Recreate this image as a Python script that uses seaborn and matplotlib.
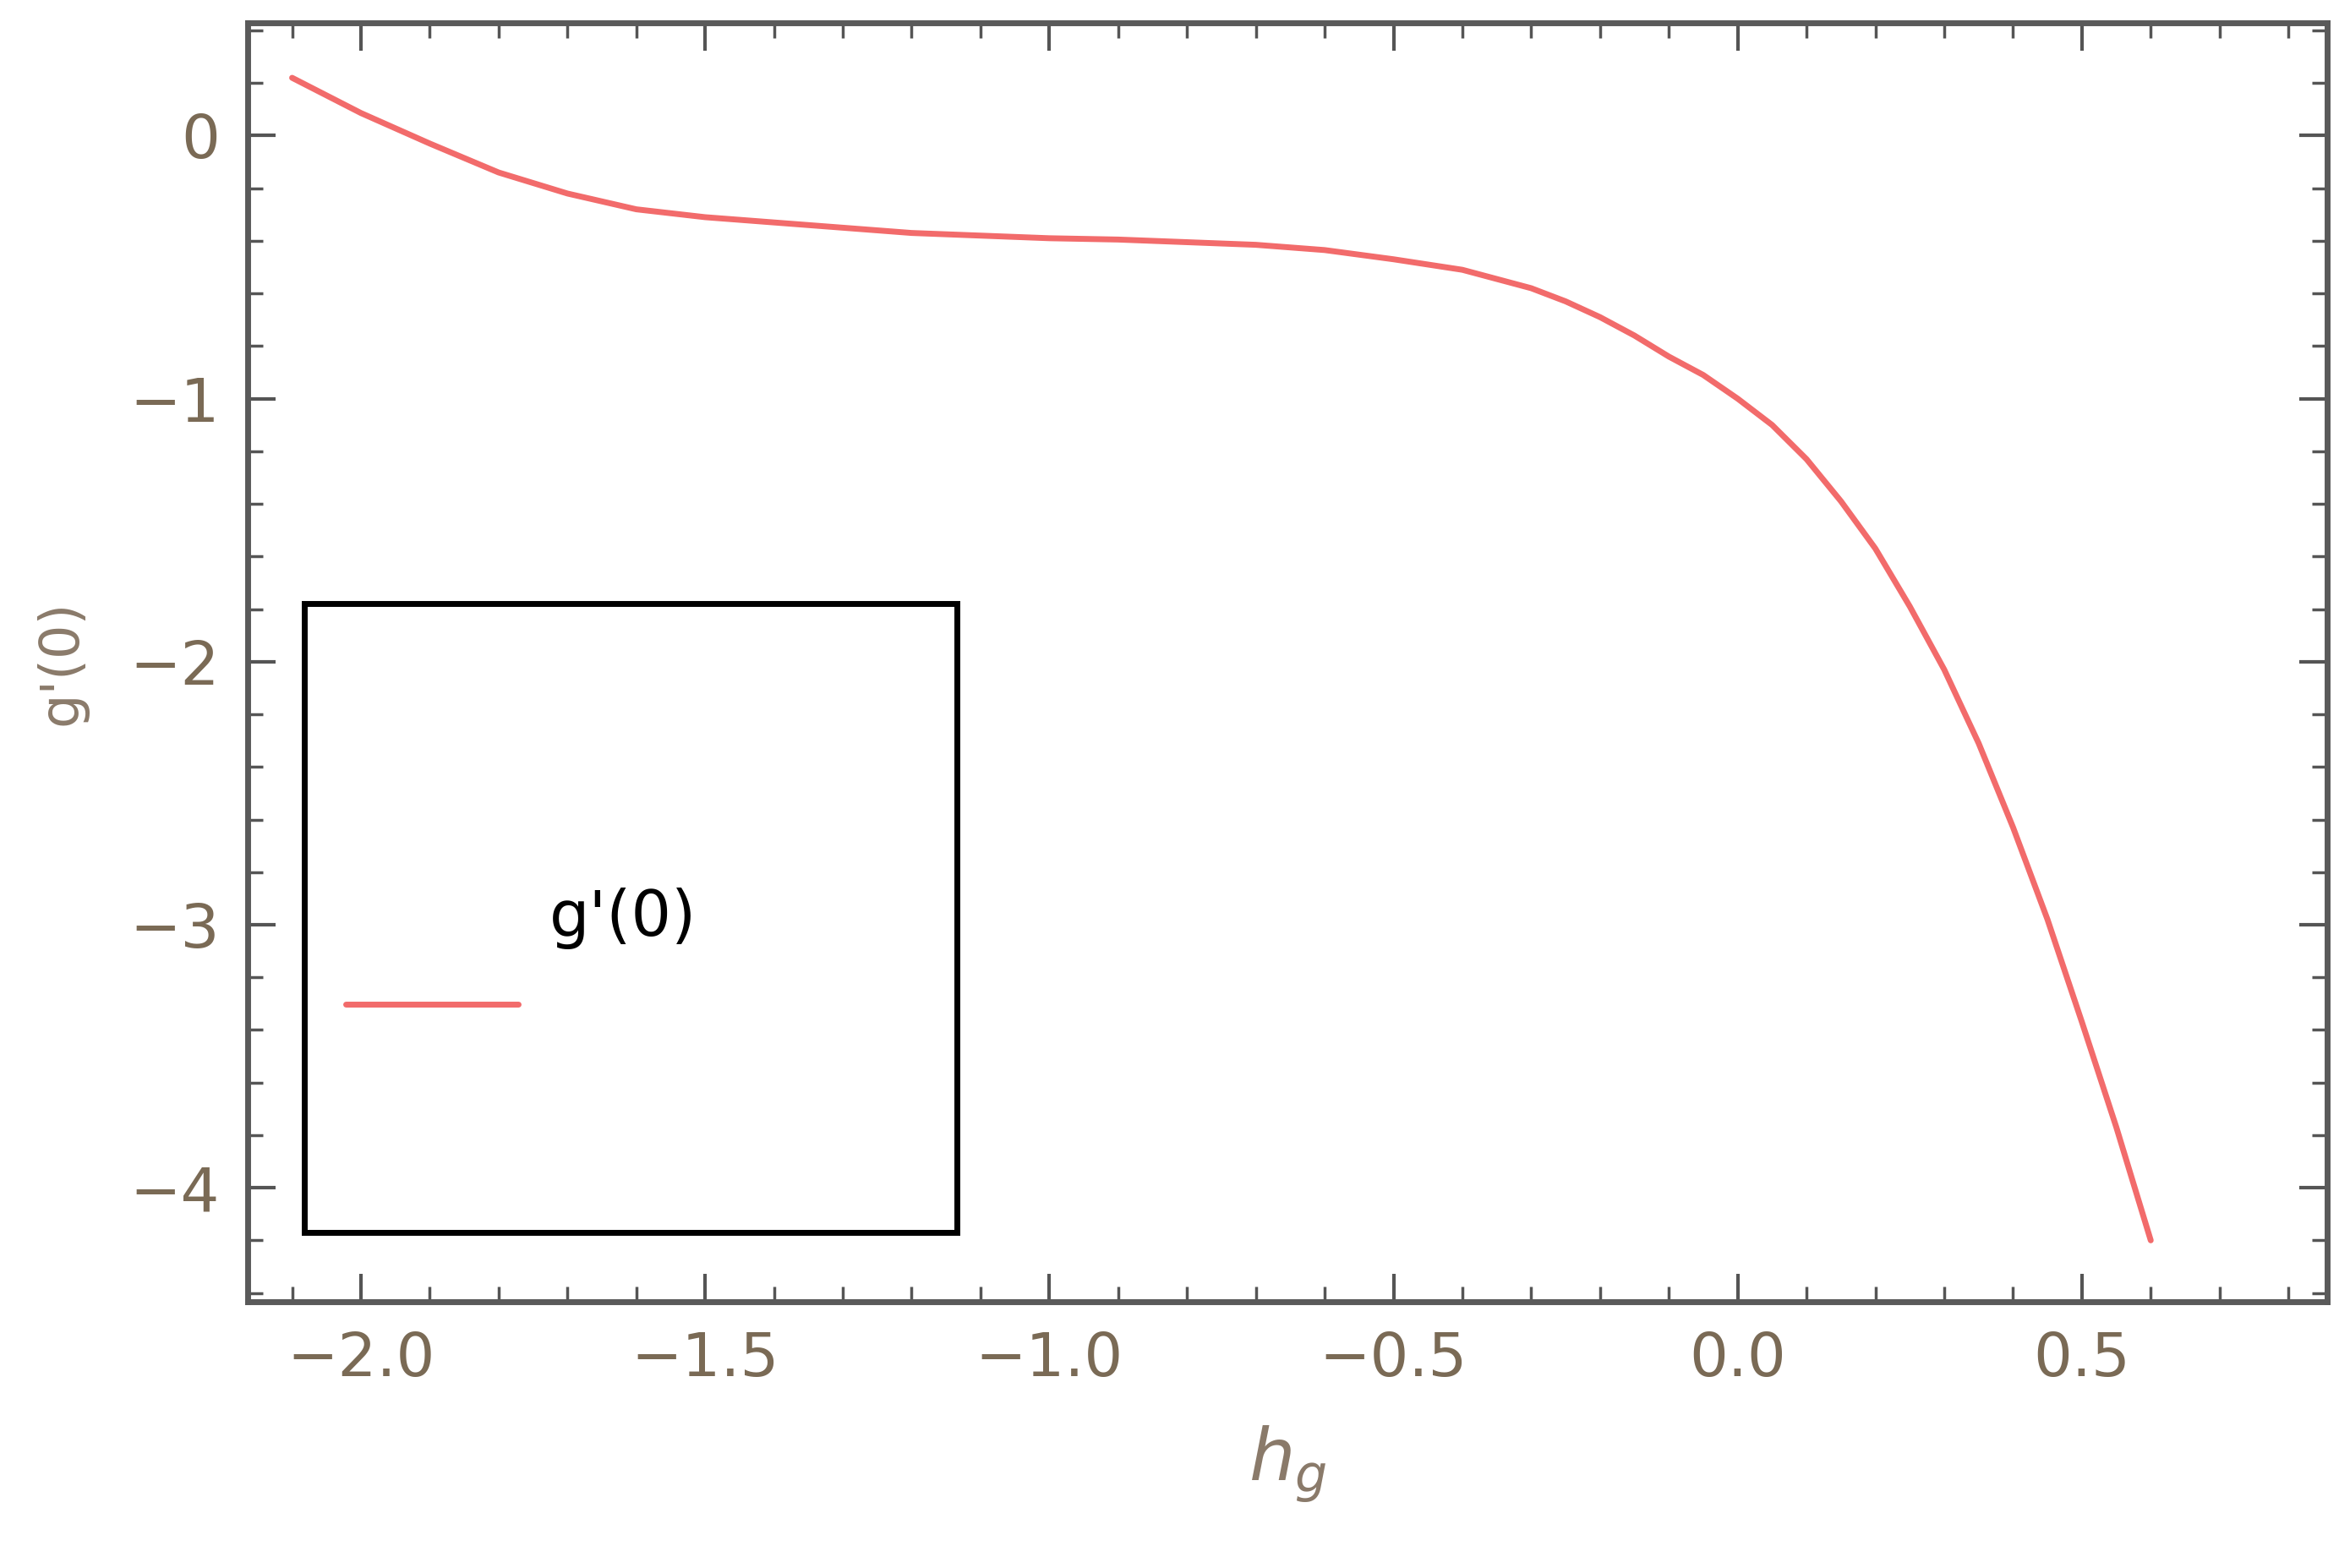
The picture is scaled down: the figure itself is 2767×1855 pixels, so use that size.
import matplotlib
matplotlib.use("Agg")
import matplotlib.pyplot as plt
from matplotlib.patches import Rectangle
from matplotlib.ticker import MultipleLocator
import pandas as pd
import seaborn as sns

# values
hg = [-2.1, -2.0, -1.9, -1.8, -1.7, -1.6, -1.5, -1.4, -1.3, -1.2, -1.1, -1.0,
      -0.9, -0.8, -0.7, -0.6, -0.5, -0.4, -0.3, -0.25, -0.2, -0.15, -0.1,
      -0.05, 0.0, 0.05, 0.1, 0.15, 0.2, 0.25, 0.3, 0.35, 0.4, 0.45, 0.5,
      0.55, 0.6]
gp0 = [0.22, 0.086, -0.03, -0.14, -0.22, -0.28, -0.31, -0.33, -0.35, -0.37,
       -0.38, -0.39, -0.395, -0.405, -0.415, -0.435, -0.47, -0.51, -0.58,
       -0.63, -0.69, -0.76, -0.84, -0.91, -1.0, -1.10, -1.23, -1.39, -1.57,
       -1.79, -2.03, -2.31, -2.63, -2.98, -3.37, -3.77, -4.2]
xticks = [-2.0, -1.5, -1.0, -0.5, 0.0, 0.5]
yticks = [0, -1, -2, -3, -4]

df = pd.DataFrame({"hg": hg, "g": gp0})

sns.set_style("white")
fig = plt.figure(figsize=(27.67, 18.55), dpi=100)
ax = fig.add_axes([165 / 1556, 1 - 866 / 1043, (1548 - 165) / 1556, (866 - 15) / 1043])

sns.lineplot(data=df, x="hg", y="g", ax=ax, color="#f26b6b", linewidth=5)

ax.set_xlim(-2.164, 0.856)
ax.set_ylim(-4.434, 0.43)
ax.set_xticks(xticks)
ax.set_xticklabels(["\u22122.0", "\u22121.5", "\u22121.0", "\u22120.5", "0.0", "0.5"])
ax.set_yticks(yticks)
ax.set_yticklabels(["0", "\u22121", "\u22122", "\u22123", "\u22124"])
ax.xaxis.set_minor_locator(MultipleLocator(0.1))
ax.yaxis.set_minor_locator(MultipleLocator(0.2))
ax.tick_params(which="both", direction="in", top=True, right=True,
               bottom=True, left=True,
               color="#555555", labelcolor="#7a6a55", labelsize=52, pad=24)
ax.tick_params(which="major", length=24, width=3)
ax.tick_params(which="minor", length=13, width=2.5)
for s in ax.spines.values():
    s.set_color("#5a5a5a")
    s.set_linewidth(5)

ax.set_xlabel("$h_g$", fontsize=62, color="#8a7a6a", labelpad=30)
ax.set_ylabel("g'(0)", fontsize=46, color="#8a7a6a", labelpad=36)

# legend box drawn like the reference
ax.add_patch(Rectangle((0.027, 0.054), 0.314, 0.492, transform=ax.transAxes,
                       fill=False, edgecolor="black", linewidth=5, zorder=5))
ax.plot([0.047, 0.130], [0.233, 0.233], transform=ax.transAxes,
        color="#f26b6b", linewidth=5)
ax.text(0.145, 0.300, "g'(0)", transform=ax.transAxes, fontsize=54,
        color="black", va="center")

fig.savefig("out.png", dpi=100)
